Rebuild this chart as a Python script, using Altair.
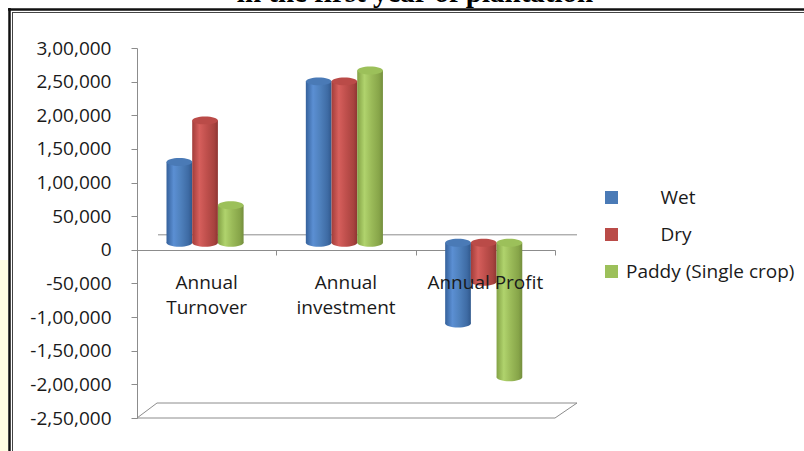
import altair as alt
import pandas as pd

# ---- chart data -------------------------------------------------------
categories = ["Annual Turnover", "Annual investment", "Annual Profit"]
series = ["Wet", "Dry", "Paddy (Single crop)"]
wet = [120000, 240000, -120000]
dry = [182000, 240000, -58000]
paddy = [56000, 256000, -200000]

y_ticks = [300000, 250000, 200000, 150000, 100000, 50000, 0,
           -50000, -100000, -150000, -200000, -250000]
y_tick_labels = ["3,00,000", "2,50,000", "2,00,000", "1,50,000", "1,00,000",
                 "50,000", "0", "-50,000", "-1,00,000", "-1,50,000",
                 "-2,00,000", "-2,50,000"]

cap_colors = ["#4A7AB6", "#BA4B48", "#9CC05A"]

# cylinder shading, left to right across each bar
shades = [
    ["#35619b", "#5b8fd3", "#4f81bd", "#3e6ba4", "#30588c"],
    ["#a23d3a", "#d65f5c", "#c0504d", "#a8433f", "#8e3532"],
    ["#83a245", "#b0d36d", "#9bbb59", "#87a549", "#748e3d"],
]

WIDTH, HEIGHT = 418, 370
FONT = "Open Sans"
GRAY = "#8c8c8c"

rows = []
for s, vals in zip(series, [wet, dry, paddy]):
    for c, v in zip(categories, vals):
        rows.append({"category": c, "series": s, "value": v,
                     "top": max(v, 0), "low": min(v, 0)})
df = pd.DataFrame(rows)


def gradient(stops):
    pos = [0, 0.28, 0.55, 0.85, 1]
    return {"gradient": "linear", "x1": 0, "x2": 1, "y1": 0, "y2": 0,
            "stops": [{"offset": o, "color": c} for o, c in zip(pos, stops)]}


# ellipse outline in unit coordinates (cubic approximation)
ELLIPSE = ("M -1 0 C -1 -0.171 -0.552 -0.31 0 -0.31 "
           "C 0.552 -0.31 1 -0.171 1 0 "
           "C 1 0.171 0.552 0.31 0 0.31 "
           "C -0.552 0.31 -1 0.171 -1 0 Z")
CAP_SIZE = 660
DEPTH = -7

label_expr = " : ".join(
    f"datum.value == {v} ? '{t}'" for v, t in zip(y_ticks, y_tick_labels)
) + " : ''"

x_scale = alt.Scale(domain=categories, paddingInner=0, paddingOuter=0)
# category axis line and ticks sit behind the cylinders ...
x_line_axis = alt.Axis(
    title=None, orient="bottom", offset=-168, tickBand="extent",
    domainColor=GRAY, tickColor=GRAY, tickSize=5, labels=False, zindex=0)
# ... while the category names are written over them
x_label_axis = alt.Axis(
    title=None, orient="bottom", offset=-168, domain=False, ticks=False,
    tickSize=0, labelAngle=0, labelFont=FONT, labelFontSize=19,
    labelColor="#1a1a1a", labelPadding=23, labelLineHeight=25,
    labelBaseline="top", zindex=1,
    labelExpr="datum.label == 'Annual Profit' ? datum.label : split(datum.label, ' ')")

x_enc = alt.X("category:N", sort=categories, scale=x_scale, axis=None)
xoff_enc = alt.XOffset(
    "series:N", sort=series,
    scale=alt.Scale(domain=series, paddingInner=0, paddingOuter=0,
                    range=[29.5, 106.6]),
)
y_scale = alt.Scale(domain=[-250000, 300000], nice=False, zero=False)
y_axis = alt.Axis(
    title=None, values=y_ticks, grid=False, domainColor=GRAY, tickColor=GRAY,
    tickSize=6, labelFont=FONT, labelFontSize=19, labelColor="#1a1a1a",
    labelPadding=20, labelExpr=label_expr,
)

base = alt.Chart(df).encode(x=x_enc, xOffset=xoff_enc)

layers = []

# page decoration: tinted margin, double border, heading line
deco = alt.Chart(pd.DataFrame({"k": [0]}))
layers.append(deco.mark_rect(color="#FFFDE3").encode(
    x=alt.value(-137), x2=alt.value(-129), y=alt.value(212), y2=alt.value(HEIGHT + 33)))
layers.append(deco.mark_rule(color="#111111", strokeWidth=2.5).encode(
    x=alt.value(-129), x2=alt.value(WIDTH + 249), y=alt.value(-38.5)))
layers.append(deco.mark_rule(color="#111111", strokeWidth=2.5).encode(
    x=alt.value(-127.5), y=alt.value(-40), y2=alt.value(HEIGHT + 33)))
layers.append(deco.mark_rule(color="#444444", strokeWidth=1).encode(
    x=alt.value(-125), x2=alt.value(WIDTH + 249), y=alt.value(-35.5)))
layers.append(deco.mark_rule(color="#444444", strokeWidth=1).encode(
    x=alt.value(-124.5), y=alt.value(-35.5), y2=alt.value(HEIGHT + 33)))
layers.append(deco.mark_text(
    font="Liberation Serif", fontWeight="bold", fontSize=29, align="center",
    baseline="alphabetic", color="#000000").encode(
    x=alt.value(278), y=alt.value(-46),
    text=alt.value("in the first year of plantation")))

# category axes carried by two invisible layers
layers.append(base.mark_point(opacity=0).encode(
    x=alt.X("category:N", sort=categories, scale=x_scale, axis=x_line_axis),
    y=alt.Y("top:Q", scale=y_scale, axis=y_axis)))
layers.append(base.mark_point(opacity=0).encode(
    x=alt.X("category:N", sort=categories, scale=x_scale, axis=x_label_axis),
    y=alt.Y("top:Q", scale=y_scale, axis=y_axis)))

# back wall zero line and floor of the 3-D frame
layers.append(deco.mark_rule(color=GRAY, yOffset=-15).encode(
    x=alt.value(21), x2=alt.value(440), y=alt.Y(datum=0, scale=y_scale, axis=y_axis)))
layers.append(deco.mark_rule(color=GRAY).encode(
    x=alt.value(0), x2=alt.value(WIDTH), y=alt.value(HEIGHT)))
layers.append(deco.mark_rule(color=GRAY).encode(
    x=alt.value(20), x2=alt.value(440), y=alt.value(HEIGHT - 15)))
layers.append(deco.mark_rule(color=GRAY).encode(
    x=alt.value(0), x2=alt.value(20), y=alt.value(HEIGHT), y2=alt.value(HEIGHT - 15)))
layers.append(deco.mark_rule(color=GRAY).encode(
    x=alt.value(WIDTH), x2=alt.value(440), y=alt.value(HEIGHT), y2=alt.value(HEIGHT - 15)))

# cylinders: lower rim, shaded body
for s, stops in zip(series, shades):
    g = gradient(stops)
    part = base.transform_filter(alt.datum.series == s)
    layers.append(part.mark_point(
        shape=ELLIPSE, size=CAP_SIZE, filled=True, fill=g, opacity=1,
        strokeWidth=0, yOffset=DEPTH).encode(
        y=alt.Y("low:Q", scale=y_scale, axis=y_axis)))
    layers.append(part.mark_bar(fill=g, yOffset=DEPTH, y2Offset=DEPTH).encode(
        y=alt.Y("top:Q", scale=y_scale, axis=y_axis), y2="low:Q"))

# upper caps, which also carry the legend; the two short names are indented
# (a zero-width lead character keeps the no-break spaces from being trimmed)
indent = "\u200b" + "\u00a0" * 7
layers.append(base.mark_point(
    shape=ELLIPSE, size=CAP_SIZE, filled=True, opacity=1, strokeWidth=0,
    yOffset=DEPTH).encode(
    y=alt.Y("top:Q", scale=y_scale, axis=y_axis),
    color=alt.Color(
        "series:N", sort=series,
        scale=alt.Scale(domain=series, range=cap_colors),
        legend=alt.Legend(
            title=None, orient="none", legendX=465, legendY=140,
            symbolType="square", symbolSize=169, symbolStrokeWidth=0,
            labelFont=FONT, labelFontSize=19, labelLimit=0,
            labelColor="#1a1a1a", labelOffset=5, rowPadding=17, padding=0,
            labelExpr=f"datum.label == 'Paddy (Single crop)' ? datum.label : '{indent}' + datum.label",
        ),
    ),
))

chart = alt.layer(*layers).properties(
    width=WIDTH, height=HEIGHT,
    autosize=alt.AutoSizeParams(type="none"),
    padding={"left": 137, "top": 48, "right": 249, "bottom": 33},
    background="white",
).resolve_axis(x="independent").configure_view(strokeWidth=0)

chart.save("out.html", embed_options={"renderer": "svg", "actions": False})
